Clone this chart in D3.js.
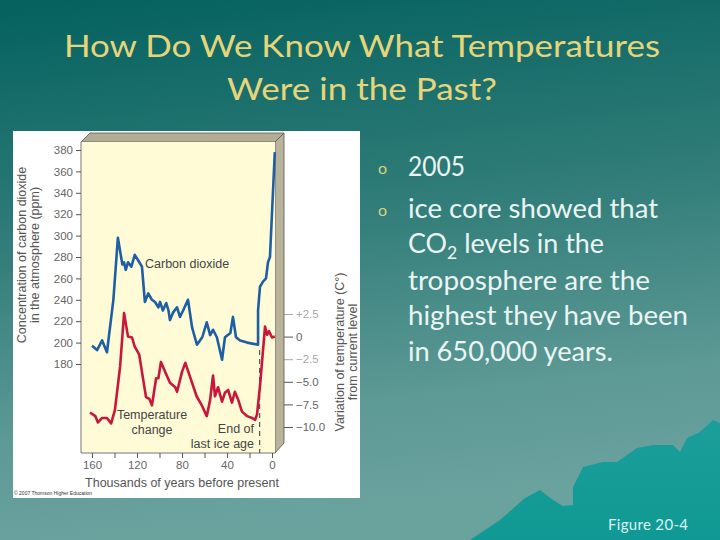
<!DOCTYPE html>
<html lang="en">
<head>
  <meta charset="UTF-8">
  <script src="https://cdn.jsdelivr.net/npm/d3@7"></script>
  <style>
    body { margin: 0; background: #2a7773; }
  </style>
</head>
<body>
<div id="container"></div>
<script>

// CO2 record (thousands of years before present, ppm)
const co2Age = [160, 155.5, 151, 146.7, 141, 137, 133, 131.5, 130, 128, 125, 122, 119, 115.6, 113, 110, 106.7, 104, 101, 99.5, 97, 94, 92, 90.7, 88, 84.4, 81.8, 79, 74.7, 71, 66.7, 62, 58, 55, 52.4, 49, 44.4, 41.8, 37, 34.7, 32, 28.4, 22, 12.4, 12.4, 10.7, 8, 5.3, 3.6, 1.8, -2.5];
const co2Ppm = [197, 193, 202, 191, 240, 298, 273, 275, 268, 275, 271, 282, 277, 271, 238, 246, 240, 238, 233, 238, 230, 237, 230, 221, 228, 233, 224, 230, 240, 214, 198, 205, 219, 207, 212, 205, 184, 205, 209, 224, 205, 202, 200, 198, 230, 252, 257, 260, 275, 280, 378];

// temperature change from current level (C)
const tempAge = [161.8, 157, 154.7, 151, 146.7, 143, 139.6, 135, 131.5, 128, 124.4, 122, 118, 115.6, 112, 109, 106.7, 103, 101, 98.7, 95, 90.7, 86, 84.4, 80, 77, 73, 67, 62, 58, 55, 52.4, 50.7, 48, 44.4, 41.8, 39, 35.6, 33, 30, 26.7, 22, 17.8, 15, 13.3, 10.7, 6.2, 4.4, 2.7, 0, -2.5];
const tempVal = [-8.4, -8.8, -9.5, -9.0, -9.0, -9.6, -8.1, -3.3, 2.6, 0, -0.1, -1.1, -2.0, -3.9, -6.7, -6.9, -7.6, -4.6, -4.6, -2.8, -3.9, -5.1, -5.6, -6.1, -3.9, -2.9, -4.4, -6.6, -7.7, -8.8, -7.0, -4.3, -6.6, -5.6, -7.2, -6.2, -5.9, -7.3, -6.1, -7.0, -8.3, -8.8, -9.0, -9.2, -8.6, -5.5, 1.1, 0.2, 0.6, -0.1, 0];

const co2Ticks = [180, 200, 220, 240, 260, 280, 300, 320, 340, 360, 380];
const tempTicks = [2.5, 0, -2.5, -5, -7.5, -10];
const tempTickLabels = ["+2.5", "0", "\u22122.5", "\u22125.0", "\u22127.5", "\u221210.0"];
const yearTicks = [160, 140, 120, 100, 80, 60, 40, 20, 0];
const yearLabels = [160, 120, 80, 40, 0];
const iceAgeEnd = 11;

const bullets = ["2005", "ice core showed that", "CO2 levels in the", "troposphere are the", "highest they have been", "in 650,000 years."];

const width = 720, height = 540;

const svg = d3.create("svg")
    .attr("width", width)
    .attr("height", height);

// slide background
const defs = svg.append("defs");
const bg = defs.append("linearGradient").attr("id", "bg")
    .attr("x1", 0).attr("y1", 0).attr("x2", 0.15).attr("y2", 1);
bg.append("stop").attr("offset", 0).attr("stop-color", "#03615e");
bg.append("stop").attr("offset", 0.45).attr("stop-color", "#317d79");
bg.append("stop").attr("offset", 0.8).attr("stop-color", "#5d9995");
bg.append("stop").attr("offset", 1).attr("stop-color", "#6aa29e");
svg.append("rect").attr("width", width).attr("height", height).attr("fill", "url(#bg)");

const mt = defs.append("linearGradient").attr("id", "mt")
    .attr("x1", 0).attr("y1", 0).attr("x2", 0).attr("y2", 1);
mt.append("stop").attr("offset", 0).attr("stop-color", "#1c9e9a");
mt.append("stop").attr("offset", 1).attr("stop-color", "#109994");

// mountains, bottom right
svg.append("path")
    .attr("d", "M470,540 L500,520 L525,498 L540,490 L553,500 L563,506 L573,505 L573,487 L583,467 L603,462 L617,462 L637,448 L653,445 L673,445 L680,452 L687,438 L700,432 L713,420 L720,423 L720,540 Z")
    .attr("fill", "url(#mt)");

// title
svg.append("g")
    .attr("font-family", "Lato, 'Open Sans', sans-serif")
    .attr("fill", "#e6d57a")
    .attr("font-size", 30)
    .selectAll("text")
    .data([["How Do We Know What Temperatures", 57, 596], ["Were in the Past?", 100, 270]])
    .join("text")
    .attr("x", 362)
    .attr("y", d => d[1])
    .attr("text-anchor", "middle")
    .attr("textLength", d => d[2])
    .attr("lengthAdjust", "spacingAndGlyphs")
    .text(d => d[0]);

// bullet text
const lineY = [176, 218, 253, 290, 325, 361];
const lineW = [57, 250, 196, 242, 280, 205];
const bulletG = svg.append("g")
    .attr("font-family", "Lato, 'Open Sans', sans-serif")
    .attr("font-size", 26)
    .attr("fill", "#eaf5f3");

[0, 1].forEach(i => {
    bulletG.append("text")
        .attr("x", 378).attr("y", lineY[i] - 2)
        .attr("font-size", 16)
        .attr("fill", "#d7d27c")
        .text("o");
});

bullets.forEach((t, i) => {
    const txt = bulletG.append("text")
        .attr("x", 408).attr("y", lineY[i])
        .attr("textLength", lineW[i])
        .attr("lengthAdjust", "spacingAndGlyphs");
    if (t.startsWith("CO2")) {
        txt.append("tspan").text("CO");
        txt.append("tspan").attr("font-size", 17).attr("dy", 6).text("2");
        txt.append("tspan").attr("dy", -6).text(t.slice(3));
    } else {
        txt.text(t);
    }
});

svg.append("text")
    .attr("x", 648).attr("y", 530)
    .attr("text-anchor", "middle")
    .attr("font-family", "Lato, 'Open Sans', sans-serif")
    .attr("font-size", 15)
    .attr("fill", "#d9f4f3")
    .attr("textLength", 80)
    .text("Figure 20-4");

// ---- figure panel ----
svg.append("rect")
    .attr("x", 13).attr("y", 131)
    .attr("width", 347).attr("height", 367)
    .attr("fill", "#ffffff");

const x = d3.scaleLinear().domain([160, 0]).range([92, 272]);
const yCO2 = d3.scaleLinear().domain([180, 380]).range([364, 150]);
const yTemp = d3.scaleLinear().domain([-10, 2.5]).range([427, 314]);

const pLeft = 81, pRight = 275, pTop = 142, pBottom = 453, depth = 9;
const chart = svg.append("g").attr("font-family", "'Liberation Sans', Arial, sans-serif");

// 3D box: top and right faces
chart.append("path")
    .attr("d", `M${pLeft},${pTop} L${pLeft + depth},${pTop - depth} L${pRight + depth},${pTop - depth} L${pRight},${pTop} Z`)
    .attr("fill", "#b4ad96").attr("stroke", "#555").attr("stroke-width", 0.8);
chart.append("path")
    .attr("d", `M${pRight},${pTop} L${pRight + depth},${pTop - depth} L${pRight + depth},${pBottom - depth - 1} L${pRight},${pBottom} Z`)
    .attr("fill", "#bab39c").attr("stroke", "#555").attr("stroke-width", 0.8);
chart.append("rect")
    .attr("x", pLeft).attr("y", pTop)
    .attr("width", pRight - pLeft).attr("height", pBottom - pTop)
    .attr("fill", "#fffbd7");
chart.append("path")
    .attr("d", `M${pLeft},${pTop} L${pLeft},${pBottom} L${pRight},${pBottom}`)
    .attr("fill", "none").attr("stroke", "#777").attr("stroke-width", 1);

// axes
const styleAxis = g => {
    g.select(".domain").remove();
    g.selectAll("line").attr("stroke", "#555");
    g.selectAll("text").attr("fill", "#666").attr("font-size", 11.5);
};

chart.append("g")
    .attr("transform", `translate(${pLeft},0)`)
    .call(d3.axisLeft(yCO2).tickValues(co2Ticks).tickSize(5).tickPadding(3))
    .call(styleAxis);

chart.append("g")
    .attr("transform", `translate(0,${pBottom})`)
    .call(d3.axisBottom(x).tickValues(yearTicks).tickSize(5).tickPadding(3)
        .tickFormat(d => yearLabels.includes(d) ? d : ""))
    .call(styleAxis);

chart.append("g")
    .attr("transform", `translate(${pRight + depth},0)`)
    .call(d3.axisRight(yTemp).tickValues(tempTicks).tickSize(9).tickPadding(3)
        .tickFormat((d, i) => tempTickLabels[i]))
    .call(styleAxis)
    .call(g => g.selectAll(".tick").filter(d => d === 2.5 || d === -2.5)
        .selectAll("line,text").attr("stroke-opacity", 0.5).attr("fill-opacity", 0.6));

// axis titles
chart.append("g")
    .attr("transform", "translate(26,255) rotate(-90)")
    .attr("text-anchor", "middle").attr("font-size", 12.5).attr("fill", "#555")
    .call(g => g.append("text").text("Concentration of carbon dioxide"))
    .call(g => g.append("text").attr("y", 13).text("in the atmosphere (ppm)"));

chart.append("g")
    .attr("transform", "translate(344,352) rotate(-90)")
    .attr("text-anchor", "middle").attr("font-size", 12.5).attr("fill", "#555")
    .call(g => g.append("text").text("Variation of temperature (C\u00b0)"))
    .call(g => g.append("text").attr("y", 13).text("from current level"));

chart.append("text")
    .attr("x", 182).attr("y", 487)
    .attr("text-anchor", "middle").attr("font-size", 12.5).attr("fill", "#555")
    .text("Thousands of years before present");

// end of last ice age marker
chart.append("line")
    .attr("x1", x(iceAgeEnd)).attr("x2", x(iceAgeEnd))
    .attr("y1", 350).attr("y2", pBottom)
    .attr("stroke", "#555").attr("stroke-width", 1.2)
    .attr("stroke-dasharray", "5,4");

// data lines
const co2Line = d3.line().x(d => x(d[0])).y(d => yCO2(d[1]));
const tempLine = d3.line().x(d => x(d[0])).y(d => yTemp(d[1]));

chart.append("path")
    .datum(d3.zip(co2Age, co2Ppm))
    .attr("d", co2Line)
    .attr("fill", "none").attr("stroke", "#1d5fa3")
    .attr("stroke-width", 2.6).attr("stroke-linejoin", "round");

chart.append("path")
    .datum(d3.zip(tempAge, tempVal))
    .attr("d", tempLine)
    .attr("fill", "none").attr("stroke", "#c8173a")
    .attr("stroke-width", 2.6).attr("stroke-linejoin", "round");

// annotations
const notes = chart.append("g").attr("font-size", 12.5).attr("fill", "#444");
notes.append("text").attr("x", 145).attr("y", 268).text("Carbon dioxide");
notes.append("text").attr("x", 152).attr("y", 419).attr("text-anchor", "middle").text("Temperature");
notes.append("text").attr("x", 152).attr("y", 434).attr("text-anchor", "middle").text("change");
notes.append("text").attr("x", 254).attr("y", 433).attr("text-anchor", "end").text("End of");
notes.append("text").attr("x", 254).attr("y", 448).attr("text-anchor", "end").text("last ice age");

chart.append("text")
    .attr("x", 14).attr("y", 495)
    .attr("font-size", 5).attr("fill", "#333")
    .text("\u00a9 2007 Thomson Higher Education");

document.getElementById("container").appendChild(svg.node());

</script>
</body>
</html>
